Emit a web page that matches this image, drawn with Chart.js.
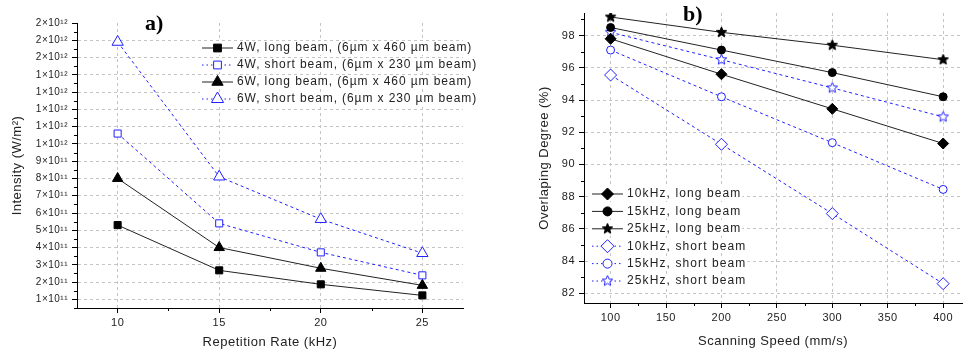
<!DOCTYPE html>
<html lang="en">
<head>
<meta charset="UTF-8">
<title>Intensity and overlapping degree</title>
<script src="https://cdn.jsdelivr.net/npm/chart.js"></script>
<style>
  body { margin: 0; background: #fff; font-family: 'Liberation Sans', Arial, sans-serif; }
  .wrap { position: relative; width: 969px; height: 354px; overflow: hidden; }
  canvas { position: absolute; top: 0; }
  #chartA { left: 0; }
  #chartB { left: 490px; }
  .tag { position: absolute; font-family: 'Liberation Serif', 'Times New Roman', serif; font-weight: bold; font-size: 22px; line-height: 1; color: #000; }
</style>
</head>
<body>
<div class="wrap">
  <canvas id="chartA" width="480" height="354"></canvas>
  <canvas id="chartB" width="479" height="354"></canvas>
  <div class="tag" style="left:145px;top:12px">a)</div>
  <div class="tag" style="left:683px;top:3px">b)</div>
</div>
<script>
// ---- a) intensity vs repetition rate ----
const repRate = [10, 15, 20, 25];
const int4wLong = [5.3e11, 2.68e11, 1.87e11, 1.23e11];
const int4wShort = [1.06e12, 5.4e11, 3.72e11, 2.39e11];
const int6wLong = [8.0e11, 4.0e11, 2.8e11, 1.81e11];
const int6wShort = [1.59e12, 8.1e11, 5.64e11, 3.67e11];
const rateTicks = [10, 12.5, 15, 17.5, 20, 22.5, 25];

// ---- b) overlapping degree vs scanning speed ----
const scanSpeed = [100, 200, 300, 400];
const ov10Long = [97.8, 95.6, 93.45, 91.3];
const ov15Long = [98.5, 97.1, 95.7, 94.2];
const ov25Long = [99.15, 98.2, 97.4, 96.5];
const ov10Short = [95.55, 91.25, 86.95, 82.6];
const ov15Short = [97.1, 94.2, 91.35, 88.45];
const ov25Short = [98.2, 96.5, 94.75, 92.95];
const speedTicks = [100, 125, 150, 175, 200, 225, 250, 275, 300, 325, 350, 375, 400];

const blue = '#2020ff';
const gridCol = '#c4c4c4';
const txtCol = '#222';
const sansFont = "'Liberation Sans', Arial, sans-serif";

const rateMajor = v => v % 5 === 0;
const intensityMajor = v => Math.round(v / 5e10) % 2 === 0;
const speedMajor = v => v % 50 === 0;
const degreeMajor = v => v % 2 === 0;
// which ticks are major, per canvas and axis (minor ones get a short tick)
const majorTest = {
  chartA: { x: rateMajor, y: intensityMajor },
  chartB: { x: speedMajor, y: degreeMajor }
};

function starImage(r, fill, stroke) {
  const c = document.createElement('canvas');
  const s = Math.ceil(r * 2 + 4);
  c.width = s; c.height = s;
  const g = c.getContext('2d');
  g.beginPath();
  for (let i = 0; i < 10; i++) {
    const rr = i % 2 ? r * 0.45 : r;
    const a = -Math.PI / 2 + i * Math.PI / 5;
    g.lineTo(s / 2 + rr * Math.cos(a), s / 2 + rr * Math.sin(a));
  }
  g.closePath();
  g.fillStyle = fill; g.fill();
  g.lineWidth = 1; g.strokeStyle = stroke; g.stroke();
  return c;
}

function series(label, xs, ys, style, r, long) {
  return {
    label,
    data: xs.map((x, i) => ({ x, y: ys[i] })),
    borderColor: long ? '#222' : blue,
    borderWidth: 1,
    borderDash: long ? [] : [3, 3],
    pointStyle: style,
    pointRadius: r,
    pointBorderWidth: 1,
    pointBackgroundColor: long ? '#000' : '#fff',
    pointBorderColor: long ? '#000' : blue,
    tension: 0
  };
}

// legend drawn as line + marker + text, like the original plots
const lineLegend = {
  id: 'lineLegend',
  beforeDraw(chart) { chart.ctx.letterSpacing = '0.5px'; },
  afterDraw(chart) {
    const tests = majorTest[chart.canvas.id];
    const ctx = chart.ctx;
    ctx.save();
    ctx.strokeStyle = '#000';
    ctx.lineWidth = 1;
    ['x', 'y'].forEach(id => {
      const s = chart.scales[id];
      s.ticks.forEach(t => {
        if (!tests[id](t.value)) {
          const p = Math.round(s.getPixelForValue(t.value)) + 0.5;
          ctx.beginPath();
          if (id === 'x') { ctx.moveTo(p, s.top); ctx.lineTo(p, s.top + 3); }
          else { ctx.moveTo(s.right - 3, p); ctx.lineTo(s.right, p); }
          ctx.stroke();
        }
      });
    });
    ctx.restore();
  },
  afterDatasetsDraw(chart, args, opts) {
    if (!opts.rows) return;
    const ctx = chart.ctx;
    ctx.save();
    ctx.font = opts.font;
    ctx.letterSpacing = opts.spacing;
    ctx.textBaseline = 'middle';
    chart.data.datasets.forEach((ds, i) => {
      const y = opts.top + i * opts.rowH;
      const w = ctx.measureText(ds.label).width;
      ctx.fillStyle = '#fff';
      ctx.fillRect(opts.x0 - 2, y - 7, opts.textX + w + 3 - opts.x0, 14);
      ctx.strokeStyle = ds.borderColor;
      ctx.lineWidth = 1;
      ctx.setLineDash(ds.borderDash.length ? [1.5, 3] : []);
      ctx.beginPath(); ctx.moveTo(opts.x0, y); ctx.lineTo(opts.x1, y); ctx.stroke();
      ctx.setLineDash([]);
      ctx.fillStyle = ds.pointBackgroundColor;
      ctx.strokeStyle = ds.pointBorderColor;
      Chart.helpers.drawPoint(ctx, { pointStyle: ds.pointStyle, radius: ds.pointRadius + 0.5, rotation: 0, borderWidth: 1 }, (opts.x0 + opts.x1) / 2, y);
      ctx.fillStyle = txtCol;
      ctx.fillText(ds.label, opts.textX, y);
    });
    ctx.restore();
  }
};
Chart.register(lineLegend);

function supLabel(i) {
  // tick i is i * 0.5e11; label only whole 1e11 steps, mantissa rounded like the original
  const v = i / 2;
  if (v < 10) return v + '×10¹¹';
  return Math.round(v / 10) + '×10¹²';
}

const intensityTicks = [];
for (let i = 1; i <= 34; i++) intensityTicks.push(i * 5e10);

new Chart(document.getElementById('chartA'), {
  type: 'line',
  data: {
    datasets: [
      series('4W, long beam, (6µm x 460 µm beam)', repRate, int4wLong, 'rect', 5, true),
      series('4W, short beam, (6µm x 230 µm beam)', repRate, int4wShort, 'rect', 5, false),
      series('6W, long beam, (6µm x 460 µm beam)', repRate, int6wLong, 'triangle', 6, true),
      series('6W, short beam, (6µm x 230 µm beam)', repRate, int6wShort, 'triangle', 6.5, false)
    ]
  },
  options: {
    responsive: false,
    animation: false,
    layout: { padding: { top: 23, right: 17, left: 0, bottom: 0 } },
    plugins: {
      legend: { display: false },
      tooltip: { enabled: false },
      lineLegend: { rows: true, x0: 202, x1: 233, textX: 237, top: 48, rowH: 17, font: '12px ' + sansFont, spacing: '0.9px' }
    },
    scales: {
      x: {
        type: 'linear', min: 8, max: 27,
        afterBuildTicks: s => { s.ticks = rateTicks.map(v => ({ value: v })); },
        afterFit: s => { s.height = 46; },
        ticks: { autoSkip: false, maxRotation: 0, padding: 3, color: txtCol, font: { family: sansFont, size: 11 },
          callback: v => (rateMajor(v) ? v : '') },
        grid: {
          color: c => (c.tick && rateMajor(c.tick.value) ? gridCol : 'transparent'),
          tickColor: c => (c.tick && rateMajor(c.tick.value) ? '#000' : 'transparent'), tickLength: 5
        },
        border: { color: '#000', dash: [3, 3] },
        title: { display: true, text: 'Repetition Rate (kHz)', color: txtCol, font: { family: sansFont, size: 13 }, padding: { top: 0, bottom: 4 } }
      },
      y: {
        type: 'linear', min: 5e10, max: 1.7e12,
        afterBuildTicks: s => { s.ticks = intensityTicks.map(v => ({ value: v })); },
        afterFit: s => { s.width = 77; },
        ticks: { autoSkip: false, padding: 4, color: txtCol, font: { family: sansFont, size: 10 },
          callback: (v, i) => ((i + 1) % 2 === 0 ? supLabel(i + 1) : '') },
        grid: {
          color: c => (c.tick && c.index % 2 === 1 && c.index < 33 ? gridCol : 'transparent'),
          tickColor: c => (c.tick && intensityMajor(c.tick.value) ? '#000' : 'transparent'), tickLength: 5
        },
        border: { color: '#000', dash: [3, 3] },
        title: { display: true, text: 'Intensity (W/m²)', color: txtCol, font: { family: sansFont, size: 13 }, padding: { top: 10, bottom: 0 } }
      }
    }
  }
});

new Chart(document.getElementById('chartB'), {
  type: 'line',
  data: {
    datasets: [
      series('10kHz, long beam', scanSpeed, ov10Long, 'rectRot', 5.5, true),
      series('15kHz, long beam', scanSpeed, ov15Long, 'circle', 4, true),
      series('25kHz, long beam', scanSpeed, ov25Long, starImage(5.5, '#000', '#000'), 5, true),
      series('10kHz, short beam', scanSpeed, ov10Short, 'rectRot', 6, false),
      series('15kHz, short beam', scanSpeed, ov15Short, 'circle', 4, false),
      series('25kHz, short beam', scanSpeed, ov25Short, starImage(5.5, '#fff', blue), 5, false)
    ]
  },
  options: {
    responsive: false,
    animation: false,
    layout: { padding: { top: 13, right: 2, left: 0, bottom: 0 } },
    plugins: {
      legend: { display: false },
      tooltip: { enabled: false },
      lineLegend: { rows: true, x0: 102, x1: 133, textX: 137, top: 194, rowH: 17.4, font: '12px ' + sansFont, spacing: '1.1px' }
    },
    scales: {
      x: {
        type: 'linear', min: 76, max: 417,
        afterBuildTicks: s => { s.ticks = speedTicks.map(v => ({ value: v })); },
        afterFit: s => { s.height = 51; },
        ticks: { autoSkip: false, maxRotation: 0, padding: 3, color: txtCol, font: { family: sansFont, size: 11 },
          callback: v => (speedMajor(v) ? v : '') },
        grid: {
          color: c => (c.tick && speedMajor(c.tick.value) ? gridCol : 'transparent'),
          tickColor: c => (c.tick && speedMajor(c.tick.value) ? '#000' : 'transparent'), tickLength: 5
        },
        border: { color: '#000', dash: [3, 3] },
        title: { display: true, text: 'Scanning Speed (mm/s)', color: txtCol, font: { family: sansFont, size: 13 }, padding: { top: 0, bottom: 5 } }
      },
      y: {
        type: 'linear', min: 81.4, max: 99.4,
        afterBuildTicks: s => { const t = []; for (let v = 82; v <= 99; v++) t.push({ value: v }); s.ticks = t; },
        afterFit: s => { s.width = 94; },
        ticks: { autoSkip: false, padding: 4, color: txtCol, font: { family: sansFont, size: 11 },
          callback: v => (degreeMajor(v) ? v : '') },
        grid: {
          color: c => (c.tick && degreeMajor(c.tick.value) ? gridCol : 'transparent'),
          tickColor: c => (c.tick && degreeMajor(c.tick.value) ? '#000' : 'transparent'), tickLength: 5
        },
        border: { color: '#000', dash: [3, 3] },
        title: { display: true, text: 'Overlaping Degree (%)', color: txtCol, font: { family: sansFont, size: 13 }, padding: { top: 47, bottom: 0 } }
      }
    }
  }
});
</script>
</body>
</html>
